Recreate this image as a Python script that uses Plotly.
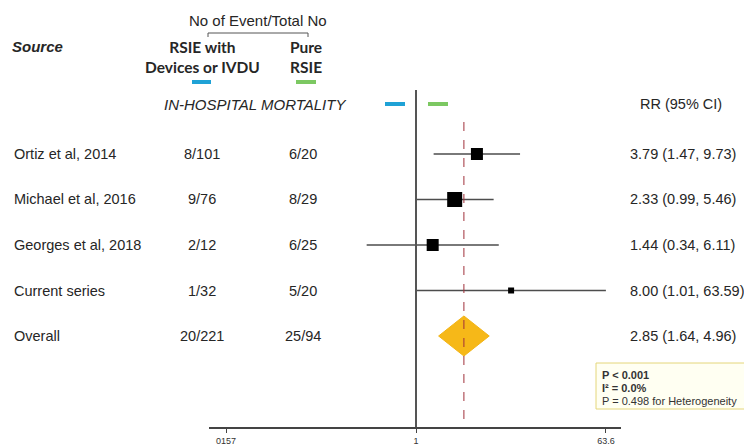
import plotly.graph_objects as go

# ---------------- data ----------------
studies = ["Ortiz et al, 2014", "Michael et al, 2016", "Georges et al, 2018", "Current series"]
devices_events = ["8/101", "9/76", "2/12", "1/32"]
pure_events = ["6/20", "8/29", "6/25", "5/20"]
rr = [3.79, 2.33, 1.44, 8.00]
ci_low = [1.47, 0.99, 0.34, 1.01]
ci_high = [9.73, 5.46, 6.11, 63.59]

overall_label = "Overall"
overall_devices = "20/221"
overall_pure = "25/94"
overall_rr = 2.85
overall_low = 1.64
overall_high = 4.96

tick_vals = [0.0157, 1, 63.6]
tick_text = ["0157", "1", "63.6"]

stats_lines = ["<b>P < 0.001</b>", "<b>I² = 0.0%</b>", "P = 0.498 for Heterogeneity"]

# ---------------- layout helpers ----------------
W, H = 744, 445
PLOT_H = 427  # plot area height (axis line sits at bottom)
ROW0, ROWSTEP = 154, 45.5


def row_of(pix):
    return (pix - ROW0) / ROWSTEP


def px(x):
    return x / W


def py(y):
    return 1 - y / PLOT_H


FONT = "Liberation Sans, Arial, sans-serif"
HFONT = "Lato, Liberation Sans, sans-serif"
TXT = "#262626"
FS = 14.5

rows = list(range(len(studies)))
overall_row = len(studies)
marker_px = [12, 15, 12, 6]

fig = go.Figure()

# study squares with CI lines
fig.add_trace(go.Scatter(
    x=rr, y=rows, mode="markers",
    marker=dict(symbol="square", size=marker_px, color="black", opacity=1,
                line=dict(color="black", width=0)),
    error_x=dict(type="data", symmetric=False,
                 array=[h - e for h, e in zip(ci_high, rr)],
                 arrayminus=[e - l for e, l in zip(rr, ci_low)],
                 color="#4d4d4d", thickness=1.3, width=0),
    showlegend=False, hoverinfo="skip"))

# overall diamond
dh = 0.44
fig.add_trace(go.Scatter(
    x=[overall_low, overall_rr, overall_high, overall_rr, overall_low],
    y=[overall_row, overall_row - dh, overall_row, overall_row + dh, overall_row],
    mode="lines", fill="toself", fillcolor="#F6B818",
    line=dict(color="#F3B415", width=1), showlegend=False, hoverinfo="skip"))

shapes = []
# line of no effect
shapes.append(dict(type="line", xref="x", yref="y", x0=1, x1=1,
                   y0=row_of(90), y1=row_of(PLOT_H),
                   line=dict(color="#555555", width=2)))
# overall dashed line
shapes.append(dict(type="line", xref="x", yref="y", x0=overall_rr, x1=overall_rr,
                   y0=row_of(122), y1=row_of(PLOT_H),
                   line=dict(color="#A0303A", width=1, dash="dash")))
# header bracket
shapes.append(dict(type="path", xref="paper", yref="paper",
                   path=f"M {px(208)},{py(37)} L {px(208)},{py(33)} L {px(308)},{py(33)} L {px(308)},{py(37)}",
                   line=dict(color="#555555", width=1)))
# colour keys
for x0, x1, yy, col in [(192, 211, 82, "#1FA2D6"), (296, 316, 82, "#7CC862"),
                         (385, 405, 104, "#1FA2D6"), (428, 448, 104, "#7CC862")]:
    shapes.append(dict(type="line", xref="paper", yref="paper",
                       x0=px(x0), x1=px(x1), y0=py(yy), y1=py(yy),
                       line=dict(color=col, width=4)))
# stats box
shapes.append(dict(type="rect", xref="paper", yref="paper",
                   x0=px(596), x1=px(760), y0=py(363), y1=py(409),
                   line=dict(color="#E4D67A", width=1), fillcolor="#FFFFF2",
                   layer="below"))

ann = []


def text(x, y, s, size=FS, anchor="left", font=FONT, color=TXT):
    ann.append(dict(x=px(x), y=py(y), xref="paper", yref="paper", text=s,
                    showarrow=False, xanchor=anchor, yanchor="middle",
                    align="center" if anchor == "center" else "left",
                    font=dict(family=font, size=size, color=color)))


# header
text(258, 20, "No of Event/Total No", 15, "center")
text(10, 46, "<b><i>Source</i></b>", 15)
text(202, 57, "<b>RSIE with<br>Devices or IVDU</b>", 15.5, "center", HFONT)
text(306, 57, "<b>Pure<br>RSIE</b>", 15.5, "center", HFONT)
text(162, 104, "<i>IN-HOSPITAL MORTALITY</i>", 15)
text(638, 104, "RR (95% CI)", FS)

# study rows
all_names = studies + [overall_label]
all_dev = devices_events + [overall_devices]
all_pure = pure_events + [overall_pure]
all_rr = rr + [overall_rr]
all_lo = ci_low + [overall_low]
all_hi = ci_high + [overall_high]
for i in range(len(all_names)):
    y = ROW0 + ROWSTEP * i
    text(12, y, all_names[i], FS)
    text(202, y, all_dev[i], FS, "center")
    text(303, y, all_pure[i], FS, "center")
    text(628, y, f"{all_rr[i]:.2f} ({all_lo[i]:.2f}, {all_hi[i]:.2f})", FS)

# stats text
for k, s in enumerate(stats_lines):
    text(600, 375 + 13 * k, s, 11, "left", FONT, "#333333")

# x axis mapping: 1 at 416 px, 105.3 px per decade
PPD = 105.3
x_lo_px, x_hi_px = 209, 621
fig.update_layout(
    width=W, height=H,
    margin=dict(l=0, r=0, t=0, b=H - PLOT_H),
    paper_bgcolor="white", plot_bgcolor="white",
    shapes=shapes, annotations=ann,
    xaxis=dict(type="log", domain=[px(x_lo_px), px(x_hi_px)],
               range=[(x_lo_px - 416) / PPD, (x_hi_px - 416) / PPD],
               showgrid=False, zeroline=False, showline=True,
               linecolor="#444444", linewidth=2,
               ticks="outside", ticklen=4, tickwidth=1, tickcolor="#444444",
               tickvals=tick_vals, ticktext=tick_text,
               tickfont=dict(family=FONT, size=9, color="#333333"),
               automargin=False),
    yaxis=dict(range=[row_of(PLOT_H), row_of(0)], visible=False,
               showgrid=False, zeroline=False),
)

fig.write_html("out.html", config={"displayModeBar": False},
               post_script="document.body.style.margin='0px';")
